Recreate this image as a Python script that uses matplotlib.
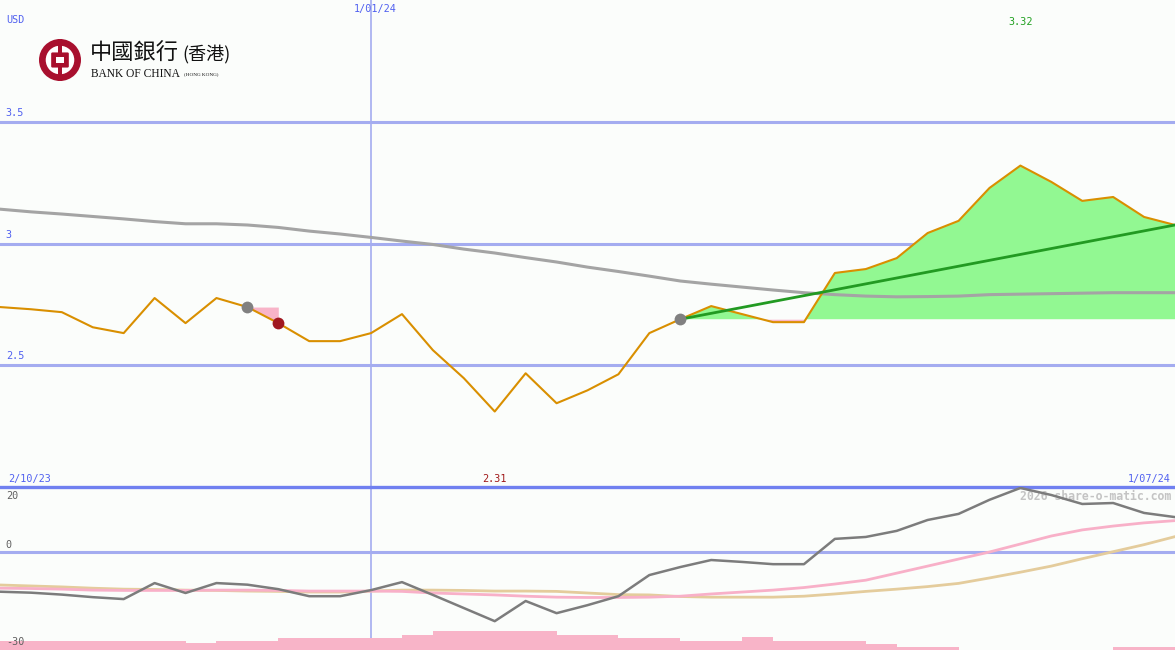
import numpy as np
import pandas as pd
import matplotlib
matplotlib.use('Agg')
import matplotlib.pyplot as plt
from matplotlib.patches import Circle, Rectangle, FancyBboxPatch

# weekly closes, Bank of China (HK), USD
dates = pd.date_range('2023-10-09', periods=39, freq='7D')
price = [2.739, 2.730, 2.718, 2.656, 2.632, 2.776, 2.673, 2.776, 2.739, 2.673,
         2.599, 2.599, 2.632, 2.710, 2.562, 2.447, 2.310, 2.467, 2.344, 2.397,
         2.463, 2.632, 2.689, 2.743, 2.710, 2.677, 2.677, 2.879, 2.895, 2.940,
         3.043, 3.093, 3.228, 3.320, 3.253, 3.175, 3.191, 3.109, 3.076]
ma_long = [3.141, 3.130, 3.121, 3.111, 3.101, 3.090, 3.081, 3.081, 3.076, 3.066,
           3.051, 3.039, 3.025, 3.010, 2.996, 2.977, 2.961, 2.942, 2.924, 2.903,
           2.885, 2.866, 2.846, 2.833, 2.821, 2.809, 2.798, 2.790, 2.784, 2.781,
           2.782, 2.784, 2.790, 2.792, 2.794, 2.796, 2.798, 2.798, 2.798]

# lower panel: momentum oscillator and its averages
osc = [-12.4, -12.7, -13.3, -14.1, -14.7, -9.7, -12.8, -9.7, -10.2, -11.6,
       -13.8, -13.8, -11.9, -9.4, -13.4, -17.5, -21.6, -15.3, -19.1, -16.6,
       -13.8, -7.2, -4.7, -2.5, -3.1, -3.8, -3.8, 4.1, 4.7, 6.6,
       10.0, 11.9, 16.3, 20.0, 17.8, 15.0, 15.3, 12.2, 10.9]
osc_fast = [-11.3, -11.4, -11.6, -11.9, -12.0, -12.0, -12.0, -11.9, -11.9, -12.0,
            -12.2, -12.2, -12.2, -12.3, -12.8, -13.1, -13.4, -13.8, -14.1, -14.2,
            -14.2, -14.1, -13.8, -13.1, -12.5, -11.9, -11.1, -10.0, -8.8, -6.6,
            -4.4, -2.2, 0.0, 2.5, 5.0, 6.9, 8.1, 9.1, 9.8]
osc_slow = [-10.3, -10.6, -10.9, -11.3, -11.6, -11.7, -11.9, -12.0, -12.2, -12.3,
            -12.5, -12.5, -12.2, -11.9, -11.9, -12.0, -12.2, -12.2, -12.3, -12.8,
            -13.3, -13.4, -13.9, -14.1, -14.1, -14.1, -13.8, -13.1, -12.3, -11.6,
            -10.8, -9.8, -8.1, -6.3, -4.4, -2.1, 0.1, 2.3, 4.8]
vol = [2.8, 2.8, 2.8, 2.8, 2.8, 2.8, 2.1, 2.8, 2.8, 3.8,
       3.8, 3.8, 3.8, 4.7, 5.9, 5.9, 5.9, 5.9, 4.7, 4.7,
       3.7, 3.7, 2.8, 2.8, 4.0, 2.8, 2.8, 2.8, 1.9, 0.8,
       0.8, 0, 0, 0, 0, 0, 0.8, 0.8]

price_ticks = [3.5, 3.0, 2.5]
price_tick_labels = ['3.5', '3', '2.5']
buy_idx, sell_idx, trend_idx = 8, 9, 22
hi_idx, lo_idx = 33, 16

bg = '#fbfdfb'
grid_c = '#a4acf0'
blue_txt = '#5060f0'
mono = 'DejaVu Sans Mono'

fig = plt.figure(figsize=(11.75, 6.5), dpi=100, facecolor=bg)
ax = fig.add_axes([0, 163 / 650, 1, 487 / 650], facecolor=bg)
ax2 = fig.add_axes([0, 0, 1, 163 / 650], facecolor=bg)
for a in (ax, ax2):
    a.set_xlim(dates[0], dates[-1])
    a.axis('off')
ax.set_ylim(2.0, 4.0)
ax2.set_ylim(-30.6, 20.3)

p = np.array(price)
# --- upper panel
for t in price_ticks:
    ax.axhline(t, color=grid_c, lw=2.2, zorder=1)
ax.axvline(pd.Timestamp('2024-01-01'), color=grid_c, lw=1.2, zorder=1)
ax2.axvline(pd.Timestamp('2024-01-01'), color=grid_c, lw=1.2, zorder=1)

# signal fills
ax.fill_between(dates[buy_idx:sell_idx + 1], p[buy_idx], p[buy_idx:sell_idx + 1],
                color='#f8b4c8', lw=0, zorder=2)
base = p[trend_idx]
seg = slice(trend_idx, len(p))
ax.fill_between(dates[seg], base, p[seg], where=p[seg] >= base, interpolate=True,
                color='#92f892', lw=0, zorder=2)
ax.fill_between(dates[seg], base, p[seg], where=p[seg] < base, interpolate=True,
                color='#f8b4c8', lw=0, zorder=2)
ax.plot(dates, ma_long, color='#a4a4a4', lw=2.2, zorder=3)

ax.plot(dates, price, color='#d98f00', lw=1.5, zorder=4)
ax.plot([dates[trend_idx], dates[-1]], [p[trend_idx], p[-1]], color='#229a22', lw=2.0, zorder=5)

ax.plot(dates[buy_idx], p[buy_idx], 'o', color='#808080', ms=8.5, mew=0, zorder=6)
ax.plot(dates[trend_idx], p[trend_idx], 'o', color='#808080', ms=8.5, mew=0, zorder=6)
ax.plot(dates[sell_idx], p[sell_idx], 'o', color='#a01820', ms=8.5, mew=0, zorder=6)

fs = 7.3
ax.text(0.005, 1 - 20 / 487, 'USD', transform=ax.transAxes, color=blue_txt,
        fontsize=fs, family=mono, va='center', ha='left')
for t, lab in zip(price_ticks, price_tick_labels):
    ax.text(0.005, t + 0.016, lab, transform=ax.get_yaxis_transform(), color=blue_txt,
            fontsize=fs, family=mono, va='bottom', ha='left')
ax.text(pd.Timestamp('2024-01-02'), 1 - 9 / 487, '1/01/24', transform=ax.get_xaxis_transform(),
        color=blue_txt, fontsize=fs, family=mono, va='center', ha='center')
ax.text(dates[hi_idx], 1 - 22 / 487, f'{price[hi_idx]:.2f}', transform=ax.get_xaxis_transform(),
        color='#20a020', fontsize=fs, family=mono, va='center', ha='center')
ax.text(dates[lo_idx], 8 / 487, f'{price[lo_idx]:.2f}', transform=ax.get_xaxis_transform(),
        color='#a01818', fontsize=fs, family=mono, va='center', ha='center')
ax.text(0.007, 8 / 487, '2/10/23', transform=ax.transAxes, color=blue_txt,
        fontsize=fs, family=mono, va='center', ha='left')
ax.text(0.996, 8 / 487, '1/07/24', transform=ax.transAxes, color=blue_txt,
        fontsize=fs, family=mono, va='center', ha='right')

# --- lower panel
ax2.axhline(0, color=grid_c, lw=2.2, zorder=1)
ax2.axhline(20.3, color='#7080f0', lw=2.4, zorder=1, clip_on=False)
ax2.bar(dates[:-1], vol, width=7, align='edge', bottom=-30.6, color='#f8b4c8', lw=0, zorder=2)
ax2.plot(dates, osc_slow, color='#e4cc9c', lw=2.0, zorder=3)
ax2.plot(dates, osc_fast, color='#f8b0c8', lw=2.0, zorder=3)
ax2.plot(dates, osc, color='#7c7c7c', lw=1.8, zorder=4)
ax2.text(0.005, 1 - 9 / 163, '20', transform=ax2.transAxes, color='#606060',
         fontsize=fs, family=mono, va='center', ha='left')
ax2.text(0.005, 0.6, '0', transform=ax2.get_yaxis_transform(), color='#606060',
         fontsize=fs, family=mono, va='bottom', ha='left')
ax2.text(0.005, 1 - 155 / 163, '-30', transform=ax2.transAxes, color='#606060',
         fontsize=fs, family=mono, va='center', ha='left')
ax2.text(0.997, 1 - 9 / 163, '2026 share-o-matic.com', transform=ax2.transAxes,
         color='#c4c4c4', fontsize=8.3, family=mono, weight='bold', va='center', ha='right',
         zorder=0)

# --- logo
lg = fig.add_axes([39 / 1175, 1 - 81 / 650, 42 / 1175, 42 / 650])
lg.set_xlim(-1, 1)
lg.set_ylim(-1, 1)
lg.axis('off')
red = '#a8102e'
lg.add_patch(Circle((0, 0), 1.0, color=red, lw=0))
lg.add_patch(Circle((0, 0), 0.68, color='white', lw=0))
lg.add_patch(Rectangle((-0.11, -1.0), 0.22, 2.0, color=red, lw=0))
lg.add_patch(FancyBboxPatch((-0.36, -0.3), 0.72, 0.6, boxstyle='round,pad=0.06', color=red, lw=0))
lg.add_patch(Rectangle((-0.2, -0.15), 0.4, 0.3, color='white', lw=0))

cjk = ['Noto Sans CJK TC', 'DejaVu Sans']
fig.text(90 / 1175, 1 - 53 / 650, '中國銀行', family=cjk, fontsize=16, weight='medium',
         color='#111111', va='center', ha='left')
fig.text(182 / 1175, 1 - 54 / 650, '(香港)', family=cjk, fontsize=13,
         color='#111111', va='center', ha='left')
fig.text(91 / 1175, 1 - 74 / 650, 'BANK OF CHINA', family='Liberation Serif', fontsize=8.3,
         color='#111111', va='center', ha='left')
fig.text(184 / 1175, 1 - 74 / 650, '(HONG KONG)', family='Liberation Serif', fontsize=3.7,
         color='#111111', va='center', ha='left')

fig.savefig('out.png', dpi=100, facecolor=bg)
